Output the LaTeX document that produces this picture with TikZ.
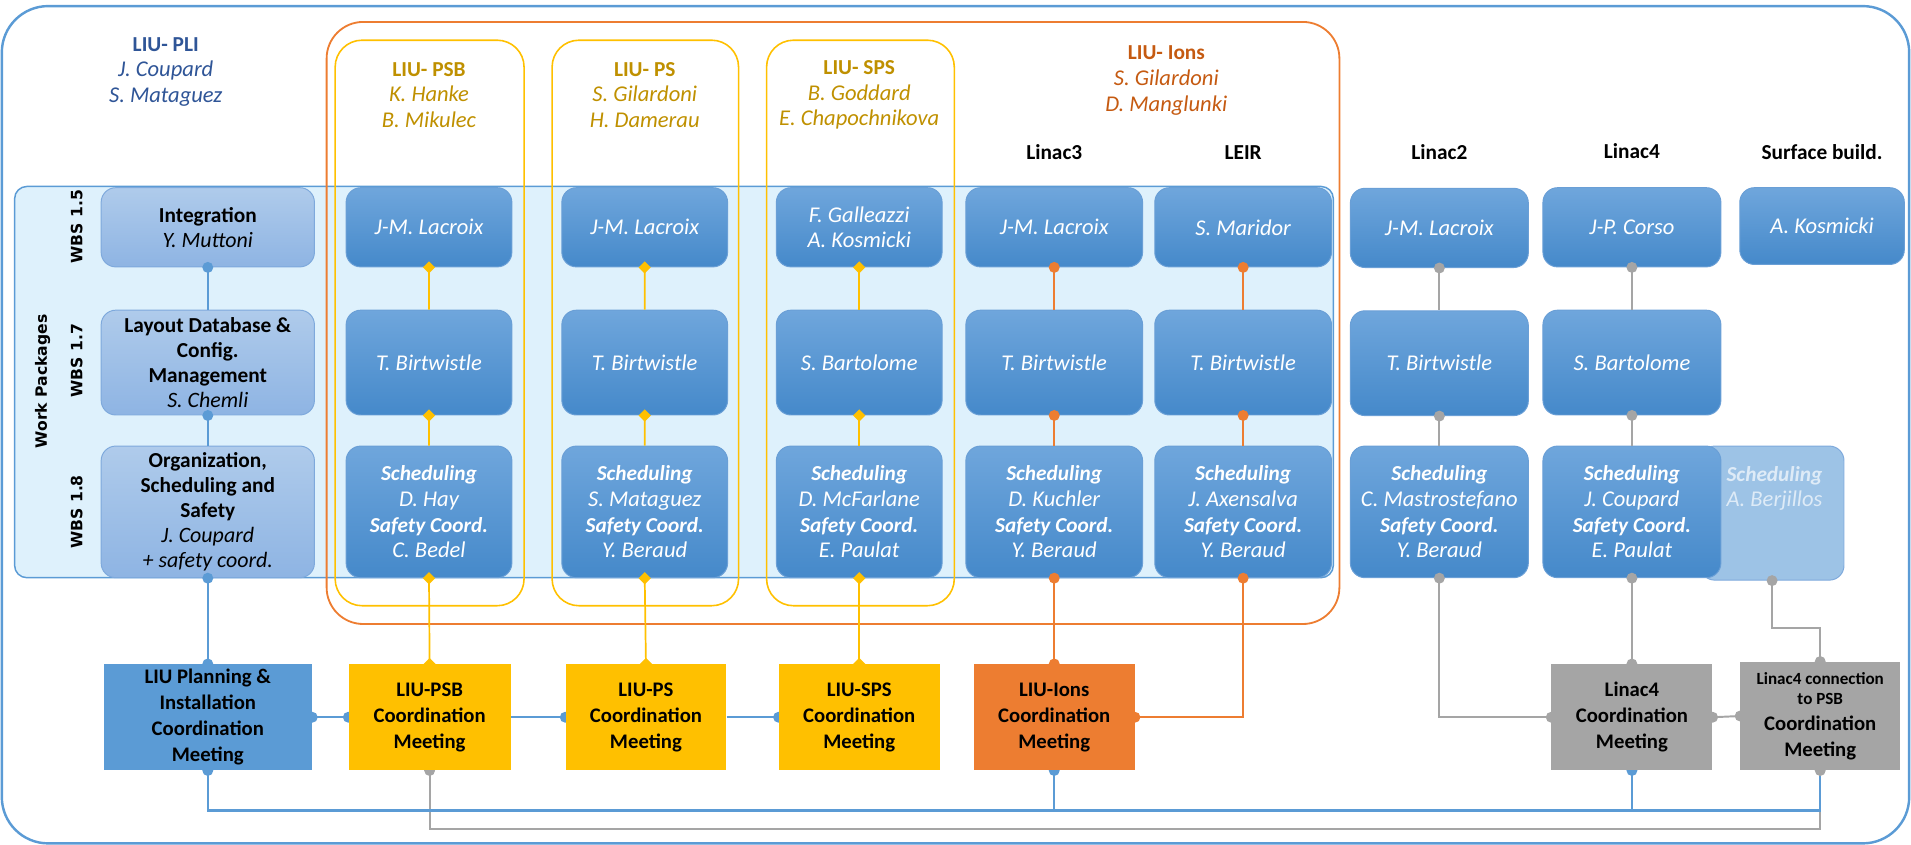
\documentclass[tikz,border=0pt]{standalone}
\usepackage{fontspec}
\setmainfont{Carlito}
\newfontfamily\wbsfont{DejaVu Sans}
\definecolor{liublue}{HTML}{5B9BD5}
\definecolor{liuband}{HTML}{DEF1FC}
\definecolor{liuorange}{HTML}{ED7D31}
\definecolor{liugold}{HTML}{FFC000}
\definecolor{liugray}{HTML}{A5A5A5}
\definecolor{boxtop}{HTML}{6FA6DC}
\definecolor{boxbot}{HTML}{4589CA}
\definecolor{boxline}{HTML}{6A9FD6}
\definecolor{wptop}{HTML}{AFCBEB}
\definecolor{wpbot}{HTML}{8EB4E3}
\definecolor{wpline}{HTML}{7EA9DC}
\definecolor{plitext}{HTML}{2F5597}
\definecolor{goldtext}{HTML}{BF9000}
\definecolor{ionstext}{HTML}{C55A11}
\definecolor{berjfill}{HTML}{9DC3E6}
\definecolor{berjtext}{HTML}{DEEBF7}
\pgfdeclarelayer{front}
\pgfsetlayers{main,front}
\newcommand{\bt}[1]{\textbf{\fontsize{17.5}{21}\selectfont #1}}
\newcommand{\schedtext}[2]{\bt{Scheduling}\\#1\\\bt{Safety Coord.}\\#2}
\begin{document}
\begin{tikzpicture}[x=1pt,y=-1pt,
    every node/.style={inner sep=0pt,align=center,font=\fontsize{18.5}{21}\selectfont},
    pbox/.style={draw=boxline,line width=0.8pt,rounded corners=12pt,top color=boxtop,bottom color=boxbot,
      text=white,minimum width=#1,font=\fontsize{18.5}{21}\selectfont\itshape},
    pbox/.default=136pt,
    wpbox/.style={draw=wpline,line width=0.8pt,rounded corners=12pt,top color=wptop,bottom color=wpbot,
      minimum width=175pt,font=\fontsize{18}{20.6}\selectfont},
    rowa/.style={minimum height=65pt},
    rowb/.style={minimum height=86pt},
    rowc/.style={minimum height=108pt},
    meet/.style={minimum width=132pt,minimum height=87pt,font=\fontsize{17}{21.3}\selectfont\bfseries},
    grp/.style={draw=liugold,line width=1.3pt,rounded corners=22pt},
    hdr/.style={font=\fontsize{17.5}{21}\selectfont\bfseries},
    wbs/.style={rotate=90,font=\wbsfont\fontsize{12.8}{15}\selectfont\bfseries},
    conb/.style={liublue,line width=1.8pt},
    cono/.style={liuorange,line width=1.8pt},
    cong/.style={liugray,line width=1.6pt},
    cony/.style={liugold,line width=1.4pt}]
\useasboundingbox (0,0) rectangle (1568,693);
% frames
\draw[liublue,line width=2pt,rounded corners=38pt] (1.5,5) rectangle (1566.5,692);
\draw[liublue,line width=1.2pt,fill=liuband,rounded corners=10pt] (12,153) rectangle (1094,474);
\draw[liuorange,line width=1.5pt,rounded corners=30pt] (268,18) rectangle (1099,512);
\foreach \a/\b in {275/430,453/606,629/783}
  \draw[grp] (\a,33) rectangle (\b,497);
% headers
\node[text=plitext] (plihead) at (136,59) {\bt{LIU- PLI}\\\textit{J. Coupard}\\\textit{S. Mataguez}};
\node[text=goldtext] (psbhead) at (352,78) {\bt{LIU- PSB}\\\textit{K. Hanke}\\\textit{B. Mikulec}};
\node[text=goldtext] (pshead) at (529,78) {\bt{LIU- PS}\\\textit{S. Gilardoni}\\\textit{H. Damerau}};
\node[text=goldtext] (spshead) at (705,78) {\bt{LIU- SPS}\\\textit{B. Goddard}\\\textit{E. Chapochnikova}};
\node[text=ionstext] (ionshead) at (957,66) {\bt{LIU- Ions}\\\textit{S. Gilardoni}\\\textit{D. Manglunki}};
\node[hdr] (l3head) at (865,125) {Linac3};
\node[hdr] (leirhead) at (1020,125) {LEIR};
\node[hdr] (l2head) at (1181,125) {Linac2};
\node[hdr] (l4head) at (1339,124) {Linac4};
\node[hdr] (sbhead) at (1495,125) {Surface build.};
\node[wbs] (wbs15) at (63,186) {WBS 1.5};
\node[wbs] (wbs17) at (63,296) {WBS 1.7};
\node[wbs] (wbs18) at (63,420) {WBS 1.8};
\node[wbs] (wpk) at (35,313) {Work Packages};
% work packages
\node[wpbox,rowa] (wpA) at (170.5,186.5) {\bt{Integration}\\\textit{Y. Muttoni}};
\node[wpbox,rowb] (wpB) at (170.5,297.5) {\bt{Layout Database \&}\\\bt{Config.}\\\bt{Management}\\\textit{S. Chemli}};
\node[wpbox,rowc] (wpC) at (170.5,420) {\bt{Organization,}\\\bt{Scheduling and}\\\bt{Safety}\\\textit{J. Coupard}\\\textit{+ safety coord.}};
% machines
\node[pbox,rowa] (psbA) at (352,186.5) {J-M. Lacroix};
\node[pbox,rowb] (psbB) at (352,297.5) {T. Birtwistle};
\node[pbox,rowc] (psbC) at (352,420) {\schedtext{D. Hay}{C. Bedel}};
\node[pbox,rowa] (psA) at (529,186.5) {J-M. Lacroix};
\node[pbox,rowb] (psB) at (529,297.5) {T. Birtwistle};
\node[pbox,rowc] (psC) at (529,420) {\schedtext{S. Mataguez}{Y. Beraud}};
\node[pbox,rowa] (spsA) at (705,186.5) {F. Galleazzi\\A. Kosmicki};
\node[pbox,rowb] (spsB) at (705,297.5) {S. Bartolome};
\node[pbox,rowc] (spsC) at (705,420) {\schedtext{D. McFarlane}{E. Paulat}};
\node[pbox=145pt,rowa] (l3A) at (865,186.5) {J-M. Lacroix};
\node[pbox=145pt,rowb] (l3B) at (865,297.5) {T. Birtwistle};
\node[pbox=145pt,rowc] (l3C) at (865,420) {\schedtext{D. Kuchler}{Y. Beraud}};
\node[pbox=145pt,rowa] (leirA) at (1020,186.5) {S. Maridor};
\node[pbox=145pt,rowb] (leirB) at (1020,297.5) {T. Birtwistle};
\node[pbox=145pt,rowc] (leirC) at (1020,420) {\schedtext{J. Axensalva}{Y. Beraud}};
\node[pbox=146pt,rowa] (l2A) at (1181,187) {J-M. Lacroix};
\node[pbox=146pt,rowb] (l2B) at (1181,298) {T. Birtwistle};
\node[pbox=146pt,rowc] (l2C) at (1181,420) {\schedtext{C. Mastrostefano}{Y. Beraud}};
\node[draw=wpline,line width=0.8pt,rounded corners=12pt,fill=berjfill,minimum width=118pt,minimum height=110pt] (berj) at (1454,421) {};
\node[text=berjtext,anchor=north,font=\fontsize{18.5}{21}\selectfont\itshape] (berjtxt) at (1456,382.5) {\bt{Scheduling}\\A. Berjillos};
\node[pbox=146pt,rowa] (l4A) at (1339,186.5) {J-P. Corso};
\node[pbox=146pt,rowb] (l4B) at (1339,297.5) {S. Bartolome};
\node[pbox=146pt,rowc] (l4C) at (1339,420) {\schedtext{J. Coupard}{E. Paulat}};
\node[pbox=135pt,minimum height=63pt] (sbA) at (1495,185.5) {A. Kosmicki};
% meetings
\begin{pgfonlayer}{front}
\node[meet,fill=liublue,minimum width=171pt] (plM) at (170.5,588.5) {LIU Planning \&\\Installation\\Coordination\\Meeting};
\node[meet,fill=liugold,minimum width=133pt] (psbM) at (352.5,588.5) {LIU-PSB\\Coordination\\Meeting};
\node[meet,fill=liugold] (psM) at (530,588.5) {LIU-PS\\Coordination\\Meeting};
\node[meet,fill=liugold] (spsM) at (705,588.5) {LIU-SPS\\Coordination\\Meeting};
\node[meet,fill=liuorange] (ionM) at (865,588.5) {LIU-Ions\\Coordination\\Meeting};
\node[meet,fill=liugray] (l4M) at (1339,588.5) {Linac4\\Coordination\\Meeting};
\node[meet,fill=liugray,minimum width=131pt,minimum height=89pt] (connM) at (1493.5,587.5)
  {{\fontsize{14}{16}\selectfont Linac4 connection}\\[-5pt]{\fontsize{14}{16}\selectfont to PSB}\\Coordination\\Meeting};
\end{pgfonlayer}
% connectors
\coordinate (busb) at (0,665);
\coordinate (busg) at (0,680);
\draw[cong] (psbM.south) -- (psbM.south |- busg) -| (connM.south);
\draw[conb] (plM.south) -- (plM.south |- busb) -| (connM.south);
\draw[conb] (ionM.south) -- (ionM.south |- busb) (l4M.south) -- (l4M.south |- busb);
\draw[conb] (wpA.south) -- (wpB.north) (wpB.south) -- (wpC.north) (wpC.south) -- (plM.north)
  (plM.east) -- (psbM.west) (psbM.east) -- (psM.west) (psM.east) -- (spsM.west);
\foreach \p in {wpA.south,wpB.south,wpC.south,plM.north,plM.east,psbM.west,psM.west,spsM.west,plM.south,ionM.south,l4M.south}
  \fill[liublue] (\p) circle (4.5pt);
\foreach \c in {psb,ps,sps}{
  \draw[cony] (\c A.south) -- (\c B.north) (\c B.south) -- (\c C.north) (\c C.south) -- (\c M.north);
  \foreach \p in {\c A.south,\c B.south,\c C.south,\c M.north}
    \fill[liugold] (\p) +(0,-5) -- +(5,0) -- +(0,5) -- +(-5,0) -- cycle;
}
\foreach \c in {l3,leir}
  \draw[cono] (\c A.south) -- (\c B.north) (\c B.south) -- (\c C.north);
\draw[cono] (l3C.south) -- (ionM.north);
\draw[cono] (leirC.south) |- (ionM.east);
\foreach \p in {l3A.south,l3B.south,l3C.south,leirA.south,leirB.south,leirC.south,ionM.north,ionM.east}
  \fill[liuorange] (\p) circle (4.5pt);
\foreach \c in {l2,l4}
  \draw[cong] (\c A.south) -- (\c B.north) (\c B.south) -- (\c C.north);
\draw[cong] (l2C.south) |- (l4M.west);
\draw[cong] (l4C.south) -- (l4M.north);
\draw[cong] (berj.south) -- ++(0,39) -| (connM.north);
\draw[cong] (l4M.east) -- (connM.west);
\foreach \p in {l2A.south,l2B.south,l2C.south,l4A.south,l4B.south,l4C.south,berj.south,
    l4M.west,l4M.north,l4M.east,connM.north,connM.west,connM.south,psbM.south}
  \fill[liugray] (\p) circle (4.5pt);
\end{tikzpicture}
\end{document}
